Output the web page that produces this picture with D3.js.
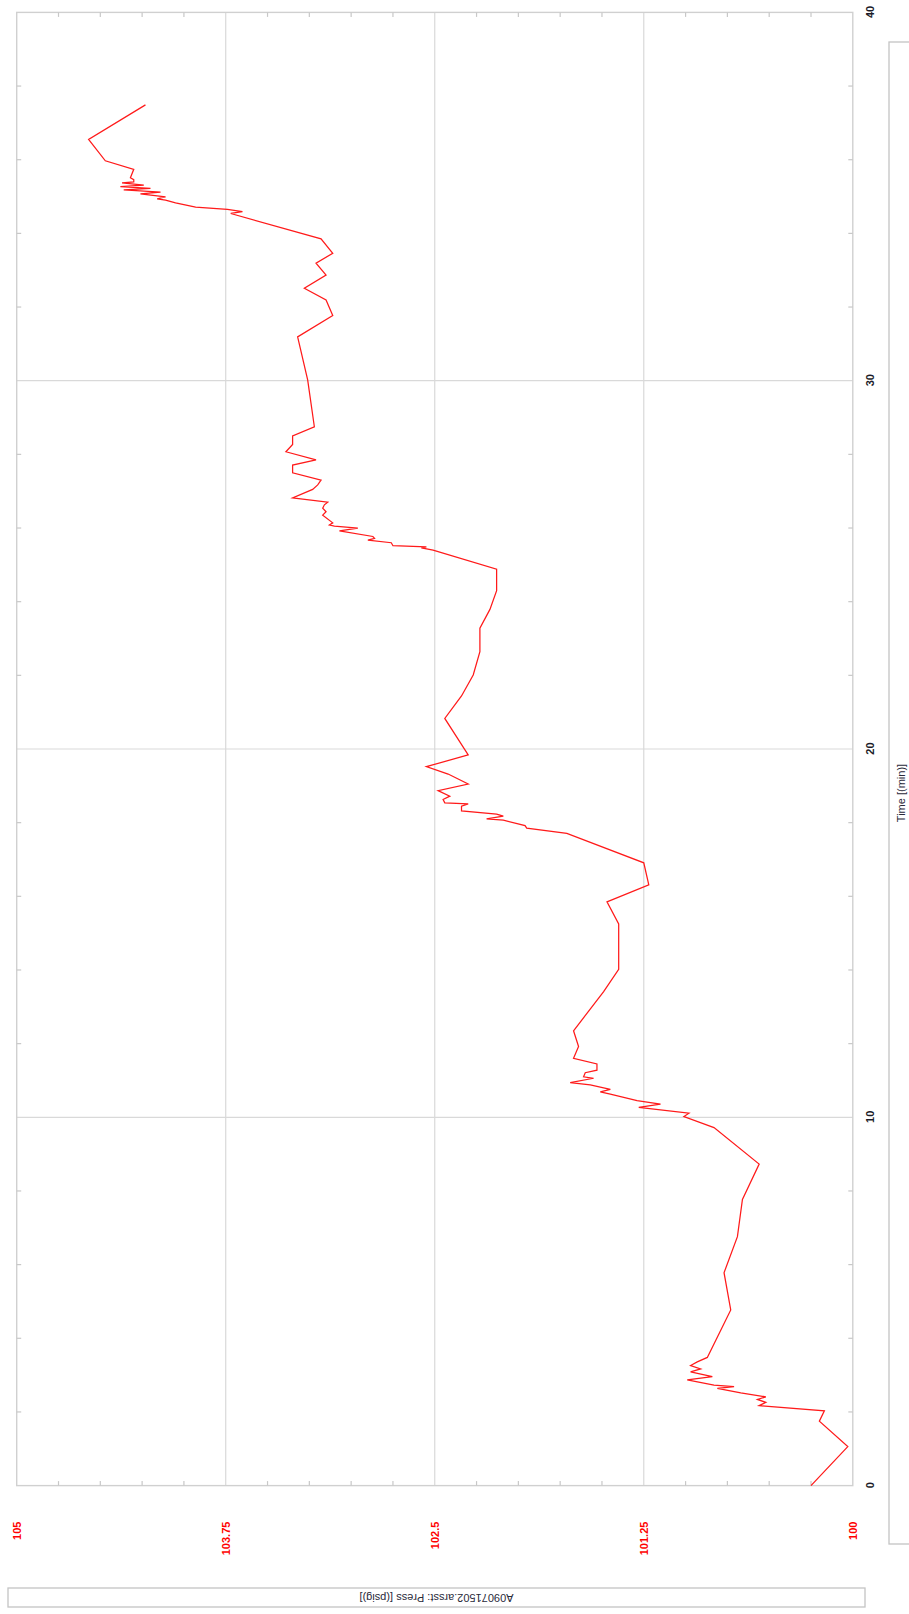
<!DOCTYPE html>
<html>
<head>
<meta charset="utf-8">
<script src="https://cdn.jsdelivr.net/npm/d3@7"></script>
<style>
  html, body { margin: 0; padding: 0; background: #fff; }
  svg { display: block; }
  text { font-family: "Liberation Sans", Arial, sans-serif; }
</style>
</head>
<body>
<script>
// Pressure log: time in minutes and pressure in psig
const timeMin = [
  0.00, 1.06, 1.75, 2.03, 2.17, 2.26, 2.34, 2.41, 2.52, 2.64, 2.69, 2.73, 2.87, 2.96,
  3.09, 3.17, 3.26, 3.36, 3.48, 4.77, 5.78, 6.76, 7.77, 8.73, 9.72, 10.02, 10.11,
  10.27, 10.36, 10.45, 10.63, 10.69, 10.76, 10.88, 10.94, 11.06, 11.10, 11.21, 11.28,
  11.45, 11.60, 11.92, 12.35, 13.41, 14.02, 15.25, 15.85, 16.31, 16.91, 17.71, 17.85,
  17.92, 18.07, 18.10, 18.18, 18.23, 18.32, 18.45, 18.51, 18.54, 18.63, 18.72, 18.87,
  19.05, 19.32, 19.52, 19.84, 20.83, 21.44, 22.01, 22.64, 23.28, 23.79, 24.30, 24.88,
  25.40, 25.46, 25.49, 25.52, 25.60, 25.67, 25.72, 25.77, 25.92, 26.00, 26.05, 26.08,
  26.14, 26.35, 26.44, 26.54, 26.63, 26.70, 26.82, 27.05, 27.17, 27.30, 27.50, 27.71,
  27.85, 28.07, 28.27, 28.50, 28.75, 30.02, 31.19, 31.77, 32.19, 32.51, 32.87, 33.19,
  33.46, 33.85, 34.54, 34.59, 34.65, 34.71, 34.83, 34.90, 34.94, 34.99, 35.07, 35.12,
  35.18, 35.22, 35.27, 35.31, 35.37, 35.40, 35.46, 35.51, 35.74, 35.97, 36.55, 37.49
];
const pressPsig = [
  100.25, 100.03, 100.20, 100.17, 100.56, 100.52, 100.57, 100.52, 100.67, 100.81, 100.71, 100.83, 100.99, 100.84,
  100.97, 100.91, 100.97, 100.93, 100.87, 100.73, 100.77, 100.69, 100.66, 100.56, 100.83, 101.01, 100.98,
  101.28, 101.15, 101.29, 101.45, 101.51, 101.45, 101.57, 101.69, 101.55, 101.61, 101.60, 101.53,
  101.53, 101.67, 101.64, 101.67, 101.49, 101.40, 101.40, 101.47, 101.22, 101.25, 101.71, 101.95,
  101.96, 102.09, 102.19, 102.09, 102.13, 102.34, 102.34, 102.30, 102.44, 102.45, 102.41, 102.48,
  102.30, 102.42, 102.55, 102.30, 102.44, 102.34, 102.27, 102.23, 102.23, 102.17, 102.13, 102.13,
  102.51, 102.58, 102.55, 102.75, 102.76, 102.90, 102.86, 102.87, 103.07, 102.96, 103.10, 103.13,
  103.11, 103.17, 103.15, 103.17, 103.16, 103.14, 103.35, 103.23, 103.20, 103.18, 103.35, 103.35,
  103.21, 103.39, 103.35, 103.35, 103.22, 103.26, 103.32, 103.11, 103.15, 103.28, 103.15, 103.21,
  103.11, 103.18, 103.72, 103.65, 103.74, 103.93, 104.05, 104.11, 104.16, 104.11, 104.26, 104.14,
  104.36, 104.20, 104.38, 104.24, 104.37, 104.30, 104.30, 104.32, 104.30, 104.47, 104.57, 104.23
];

const timeTicks = [0, 10, 20, 30, 40];
const timeTickLabels = ["0", "10", "20", "30", "40"];
const pressTicks = [100, 101.25, 102.5, 103.75, 105];
const pressTickLabels = ["100", "101.25", "102.5", "103.75", "105"];
const timeTitle = "Time [(min)]";
const pressTitle = "A09071502.arsst: Press [(psig)]";

const W = 909, H = 1614;
const svg = d3.select("body").append("svg").attr("width", W).attr("height", H);
svg.append("rect").attr("width", W).attr("height", H).attr("fill", "#fff");

// The whole chart is laid out on its side: time runs upward, pressure runs leftward.
const g = svg.append("g").attr("transform", `translate(0,${H}) rotate(-90)`);

const x = d3.scaleLinear().domain([0, 40]).range([128.4, 1601.6]);
const y = d3.scaleLinear().domain([100, 105]).range([852.8, 16.7]);

const gridColor = "#d9d9d9";

// Major gridlines
g.append("g").selectAll("line").data(timeTicks.slice(1, -1)).join("line")
  .attr("x1", d => x(d)).attr("x2", d => x(d))
  .attr("y1", y(100)).attr("y2", y(105))
  .attr("stroke", gridColor).attr("stroke-width", 1.2);
g.append("g").selectAll("line").data(pressTicks.slice(1, -1)).join("line")
  .attr("x1", x(0)).attr("x2", x(40))
  .attr("y1", d => y(d)).attr("y2", d => y(d))
  .attr("stroke", gridColor).attr("stroke-width", 1.2);

// Plot frame
g.append("rect")
  .attr("x", x(0)).attr("y", y(105))
  .attr("width", x(40) - x(0)).attr("height", y(100) - y(105))
  .attr("fill", "none").attr("stroke", "#d0d0d0").attr("stroke-width", 1.4);

// Minor ticks on all four sides, pointing inward
const minorTime = d3.range(2, 40, 2).filter(t => t % 10 !== 0);
const minorPress = d3.range(100.25, 105, 0.25).filter(p => Math.abs((p - 100) / 1.25 - Math.round((p - 100) / 1.25)) > 1e-6);
const tickLen = 4.5;
const mt = g.append("g").attr("stroke", "#c8c8c8").attr("stroke-width", 1.2);
mt.selectAll(".tb").data(minorTime).join("line").attr("class", "tb")
  .attr("x1", d => x(d)).attr("x2", d => x(d)).attr("y1", y(100)).attr("y2", y(100) - tickLen);
mt.selectAll(".tt").data(minorTime).join("line").attr("class", "tt")
  .attr("x1", d => x(d)).attr("x2", d => x(d)).attr("y1", y(105)).attr("y2", y(105) + tickLen);
mt.selectAll(".pl").data(minorPress).join("line").attr("class", "pl")
  .attr("x1", x(0)).attr("x2", x(0) + tickLen).attr("y1", d => y(d)).attr("y2", d => y(d));
mt.selectAll(".pr").data(minorPress).join("line").attr("class", "pr")
  .attr("x1", x(40)).attr("x2", x(40) - tickLen).attr("y1", d => y(d)).attr("y2", d => y(d));

// Time axis labels
const xAxis = g.append("g").attr("transform", `translate(0,${y(100)})`)
  .call(d3.axisBottom(x).tickValues(timeTicks).tickFormat((d, i) => timeTickLabels[i])
    .tickSize(0).tickPadding(13));
xAxis.select(".domain").remove();
xAxis.selectAll("text").attr("font-size", 11).attr("font-weight", "bold")
  .attr("fill", "#1c1c2a").style("font-family", "'Liberation Sans', Arial, sans-serif");

// Pressure axis labels
const yAxis = g.append("g").attr("transform", `translate(${x(0)},0)`)
  .call(d3.axisLeft(y).tickValues(pressTicks).tickFormat((d, i) => pressTickLabels[i])
    .tickSize(0).tickPadding(36));
yAxis.select(".domain").remove();
yAxis.selectAll("text").attr("font-size", 11).attr("font-weight", "bold")
  .attr("fill", "#ff0000").style("font-family", "'Liberation Sans', Arial, sans-serif");

// Pressure trace
const series = timeMin.map((t, i) => [t, pressPsig[i]]);
g.append("path").datum(series)
  .attr("fill", "none").attr("stroke", "#ff1a1a").attr("stroke-width", 1.25)
  .attr("stroke-linejoin", "miter")
  .attr("d", d3.line().x(d => x(d[0])).y(d => y(d[1])));

// Time axis title box
g.append("rect").attr("x", 70).attr("y", 889).attr("width", 1502).attr("height", 28)
  .attr("fill", "#fff").attr("stroke", "#c4c4c4").attr("stroke-width", 1.3);
g.append("text").attr("x", 821).attr("y", 901)
  .attr("text-anchor", "middle").attr("dominant-baseline", "central")
  .attr("font-size", 11).attr("fill", "#2a2a3a").text(timeTitle);

// Pressure axis title box
g.append("rect").attr("x", 7).attr("y", 8).attr("width", 19).attr("height", 857)
  .attr("fill", "#fff").attr("stroke", "#c4c4c4").attr("stroke-width", 1.3);
g.append("text").attr("transform", `translate(16.5,436.5) rotate(-90)`)
  .attr("text-anchor", "middle").attr("dominant-baseline", "central")
  .attr("font-size", 11).attr("fill", "#2a2a3a").text(pressTitle);
</script>
</body>
</html>
